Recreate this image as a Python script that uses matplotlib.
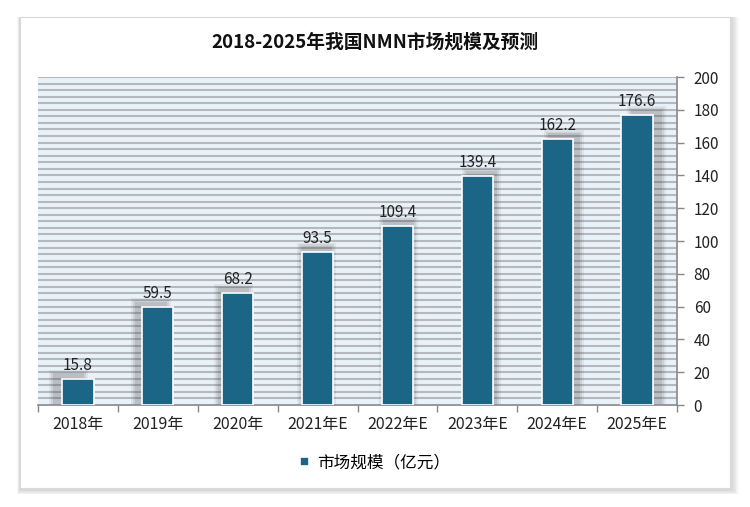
import matplotlib
matplotlib.use("Agg")
import matplotlib.pyplot as plt
from matplotlib.patches import Rectangle
import numpy as np

plt.rcParams['font.family'] = ['Noto Sans CJK SC', 'DejaVu Sans']

categories = ['2018年', '2019年', '2020年', '2021年E', '2022年E', '2023年E', '2024年E', '2025年E']
values = [15.8, 59.5, 68.2, 93.5, 109.4, 139.4, 162.2, 176.6]
series_name = '市场规模（亿元）'
title = '2018-2025年我国NMN市场规模及预测'
yticks = [0, 20, 40, 60, 80, 100, 120, 140, 160, 180, 200]

bar_color = '#1b6587'

fig = plt.figure(figsize=(7.5, 5.07), dpi=100)
fig.patch.set_facecolor('white')

# outer frame with soft shadow
for k, a in enumerate([0.05, 0.05, 0.06, 0.07, 0.08]):
    off = (5 - k) / 750
    fig.patches.append(Rectangle((20/750 - off*0.6, 1 - 490/507 - off*1.3), 712/750 + off*1.9, 473/507 + off*1.2,
                                 transform=fig.transFigure, facecolor='#808080', alpha=a, edgecolor='none', zorder=0))
fig.patches.append(Rectangle((20/750, 1 - 488/507), 710/750, 471/507, transform=fig.transFigure,
                             facecolor='white', edgecolor='#d9d9d9', linewidth=0.8, zorder=1))

ax = fig.add_axes([38/750, 1 - 405/507, 639/750, 328/507])
ax.set_zorder(2)
ax.set_facecolor('#eaf2f9')

x = np.arange(len(categories))
n = len(categories)

# grid lines every 4 units
for gy in np.arange(4, 201, 4):
    ax.axhline(gy, color='#b5b9bd', linewidth=1.5, zorder=1)

# perspective shadows
for i, v in enumerate(values):
    dx = (i - (n - 1) / 2) / ((n - 1) / 2) * 0.12
    for k, a in enumerate([0.08, 0.10, 0.13]):
        grow = (2 - k) * 0.025
        ax.add_patch(Rectangle((x[i] - 0.195 + dx - grow, 0), 0.39 + 2 * grow, v + 3.5 + grow * 40,
                               facecolor='#404040', alpha=a, edgecolor='none', zorder=2))

bars = ax.bar(x, values, width=0.39, color=bar_color, edgecolor='white', linewidth=1.2, zorder=3, label=series_name)

for xi, v in zip(x, values):
    ax.text(xi, v + 3, f'{v}', ha='center', va='bottom', fontsize=11, color='#222222', zorder=4)

ax.set_xlim(-0.5, n - 0.5)
ax.set_ylim(0, 200)
ax.yaxis.tick_right()
ax.set_yticks(yticks)
ax.set_yticklabels([str(t) for t in yticks], fontsize=11, color='#222222')
ax.set_xticks(np.arange(-0.5, n, 1), minor=False)
ax.set_xticklabels([])
ax.set_xticks(x, minor=True)
ax.set_xticklabels(categories, minor=True, fontsize=11.5, color='#222222')
ax.tick_params(axis='x', which='major', length=5, color='#888888', width=1)
ax.tick_params(axis='x', which='minor', length=0, pad=8)
ax.tick_params(axis='y', length=5, color='#888888', width=1, pad=7)

for s in ['top', 'left']:
    ax.spines[s].set_visible(False)
ax.spines['bottom'].set_color('#888888')
ax.spines['bottom'].set_linewidth(1.2)
ax.spines['right'].set_color('#888888')
ax.spines['right'].set_linewidth(1.2)

fig.text(0.5, 1 - 42/507, title, ha='center', va='center', fontsize=13.5, fontweight='bold', color='#111111', zorder=3)

leg = fig.legend(handles=[bars], labels=[series_name], loc='center', bbox_to_anchor=(0.5, 1 - 463/507),
                 frameon=False, fontsize=12, handlelength=0.5, handleheight=0.5, handletextpad=0.5)

fig.savefig('out.png', dpi=100, facecolor='white')
